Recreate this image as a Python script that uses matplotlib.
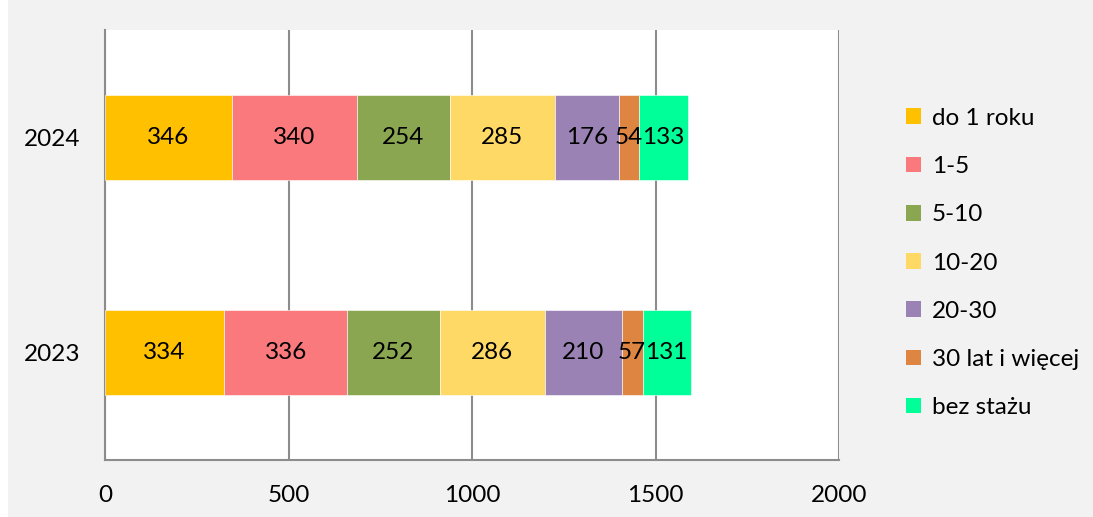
import matplotlib
matplotlib.use("Agg")
import matplotlib.pyplot as plt
from matplotlib.patches import Patch, Rectangle

# dane
years = ["2023", "2024"]
groups = ["do 1 roku", "1-5", "5-10", "10-20", "20-30", "30 lat i więcej", "bez stażu"]
# długości słupków (pierwszy odcinek 2023 narysowany jako 324, etykieta mówi 334)
values_2023 = [324, 336, 252, 286, 210, 57, 131]
values_2024 = [346, 340, 254, 285, 176, 54, 133]
labels_2023 = [334, 336, 252, 286, 210, 57, 131]
labels_2024 = [346, 340, 254, 285, 176, 54, 133]
colors = ["#FFC000", "#FA797C", "#8AA650", "#FFD966", "#9A83B4", "#DD8541", "#00FF99"]
x_ticks = [0, 500, 1000, 1500, 2000]

plt.rcParams["font.family"] = ["Lato", "DejaVu Sans"]
fs = 17.5

fig = plt.figure(figsize=(10.93, 5.17), dpi=100, facecolor="white")
fig.patches.append(Rectangle((8 / 1093, 0), 1, 1, transform=fig.transFigure,
                             facecolor="#F2F2F2", edgecolor="none", zorder=-10))
ax = fig.add_axes([105 / 1093, 1 - 460 / 517, 734 / 1093, 430 / 517])
ax.set_facecolor("white")

series = [values_2023, values_2024]
labels = [labels_2023, labels_2024]
left = [0, 0]
for i, g in enumerate(groups):
    w = [s[i] for s in series]
    bars = ax.barh(range(len(years)), w, left=left, height=0.395, color=colors[i],
                   edgecolor="white", linewidth=0.4, label=g, zorder=3)
    for b, lab in zip(bars, [l[i] for l in labels]):
        ax.text(b.get_x() + b.get_width() / 2, b.get_y() + b.get_height() / 2, str(lab),
                ha="center", va="center", fontsize=fs, color="black", zorder=4)
    left = [l + v for l, v in zip(left, w)]

ax.set_xlim(0, 2000)
ax.set_ylim(-0.5, 1.5)
ax.set_xticks(x_ticks)
ax.set_yticks(range(len(years)))
ax.set_yticklabels(years)
ax.tick_params(axis="both", length=0, labelsize=fs)
ax.tick_params(axis="x", pad=18)
ax.tick_params(axis="y", pad=18)
ax.xaxis.grid(True, color="#8C8C8C", linewidth=1.5, zorder=1)
for s in ["top", "right"]:
    ax.spines[s].set_visible(False)
for s in ["left", "bottom"]:
    ax.spines[s].set_color("#8C8C8C")
    ax.spines[s].set_linewidth(1.5)

handles = [Patch(facecolor=c, edgecolor="none") for c in colors]
fig.legend(handles, groups, loc="center left", bbox_to_anchor=(906 / 1093, 1 - 263 / 517),
           frameon=False, fontsize=fs, handlelength=0.62, handleheight=0.62,
           handletextpad=0.45, labelspacing=1.12, borderpad=0, borderaxespad=0)

fig.savefig("out.png", dpi=100, facecolor=fig.get_facecolor())
